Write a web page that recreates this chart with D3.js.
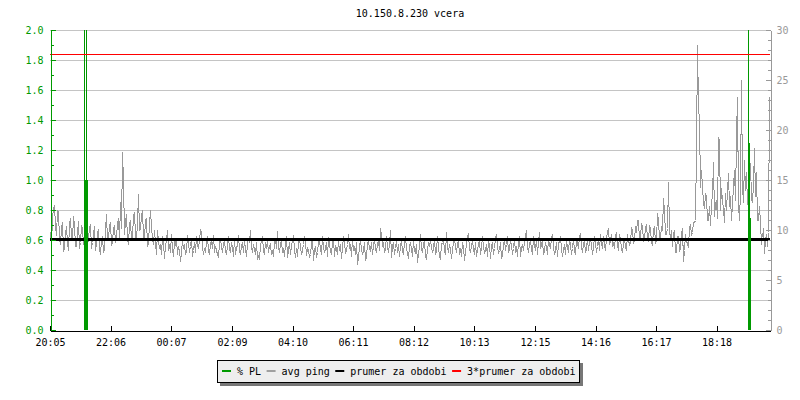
<!DOCTYPE html>
<html><head><meta charset="utf-8">
<script src="https://cdn.jsdelivr.net/npm/d3@7"></script>
<style>
body{margin:0;background:#fff;}
svg text{font-family:"DejaVu Sans Mono",monospace;font-size:10px;}
</style></head><body>
<svg id="c" width="800" height="400"></svg>
<script>
// ---------- data ----------
const title = "10.150.8.230 vcera";
const startTime = "20:05";
const spanMinutes = 1440;
const xTickLabels = ["20:05","22:06","00:07","02:09","04:10","06:11","08:12","10:13","12:15","14:16","16:17","18:18"];
const leftTicks = [0,0.2,0.4,0.6,0.8,1.0,1.2,1.4,1.6,1.8,2.0];
const leftMinorTicks = [0.1,0.3,0.5,0.7,0.9,1.1,1.3,1.5,1.7,1.9];
const rightTicks = [0,5,10,15,20,25,30];
const rightMinorTicks = [1,2,3,4,6,7,8,9,11,12,13,14,16,17,18,19,21,22,23,24,26,27,28,29];
const pingStepMinutes = 2;
const pingValues = [
 9.8,8.6,11.2,12.2,12.5,10.4,9.5,12.0,11.8,9.2,8.6,10.2,10.8,7.9,8.2,9.6,10.4,8.8,8.0,10.6,
 11.2,9.4,9.0,11.4,10.6,8.4,8.4,9.8,10.9,8.2,8.8,10.4,10.2,8.6,9.5,11.6,11.0,8.4,9.2,10.2,
 10.6,8.2,8.8,9.6,10.4,8.0,8.6,9.8,10.0,8.2,7.6,9.0,9.4,7.8,8.2,10.0,11.6,9.0,9.2,10.4,
 10.8,8.6,8.8,10.2,10.4,8.8,9.4,10.6,11.2,9.0,12.8,10.2,17.8,15.0,9.6,10.8,11.6,9.2,8.6,10.6,
 11.0,9.0,9.4,11.4,11.8,9.6,9.0,10.8,13.6,10.0,10.2,11.4,12.0,9.4,9.2,11.0,11.2,8.4,8.8,10.6,
 12.0,10.4,9.2,8.6,10.0,8.8,7.6,10.0,9.0,8.2,8.6,7.6,9.4,8.8,7.2,8.4,9.0,10.0,8.0,8.6,
 7.8,9.6,8.2,7.4,8.8,8.6,9.2,7.6,8.4,8.0,6.9,7.8,9.0,8.2,8.6,7.6,8.0,9.5,8.8,7.8,
 8.4,9.2,7.4,8.0,8.8,7.8,9.4,8.6,8.2,9.0,10.0,9.8,8.4,7.6,8.2,7.8,8.8,9.4,8.0,7.6,
 8.6,9.0,8.2,9.5,7.8,8.4,8.0,7.6,7.3,8.8,9.2,8.4,7.8,8.6,9.0,8.0,7.6,8.4,9.4,8.2,
 7.8,8.8,8.4,7.4,9.2,7.6,8.2,8.6,9.5,8.0,7.6,8.4,8.8,7.8,9.0,8.2,7.4,8.6,9.2,8.8,
 10.0,8.4,7.8,8.6,8.2,7.6,8.8,7.2,7.4,7.2,8.4,9.0,9.4,8.0,7.6,8.8,8.2,9.0,7.8,8.4,
 8.6,7.6,8.0,7.4,8.8,9.2,8.2,9.9,8.4,7.8,8.6,9.0,7.8,8.2,7.4,8.6,9.4,7.3,8.0,8.8,
 7.6,8.4,9.0,9.5,8.0,7.3,8.2,7.4,8.8,9.2,8.4,7.6,8.0,8.6,9.4,8.8,7.5,8.2,8.0,7.4,
 7.6,8.6,9.2,7.0,8.0,8.4,7.3,7.8,8.8,9.0,8.2,7.6,9.4,8.4,7.8,8.2,8.8,7.4,9.3,8.6,
 8.0,7.6,8.8,9.2,7.4,8.4,8.2,7.6,9.0,8.0,8.6,7.2,8.2,9.4,8.8,7.8,8.0,8.6,9.6,8.2,
 8.6,7.4,9.2,8.0,8.4,7.6,8.8,6.6,7.2,8.4,9.0,8.2,7.6,8.0,8.8,7.0,7.4,8.6,9.0,8.2,
 8.0,8.8,7.6,8.4,9.2,8.2,7.8,8.6,9.0,8.0,10.2,9.6,8.4,8.8,7.8,8.2,9.4,8.4,7.8,8.6,
 10.0,7.3,8.4,8.8,7.6,8.2,9.0,7.8,8.6,7.4,8.4,9.0,8.0,7.6,8.8,9.4,8.2,7.8,7.2,8.4,
 8.8,8.2,7.4,9.0,8.0,7.8,8.6,6.8,7.6,8.4,9.6,8.2,7.8,8.6,9.0,7.4,7.2,8.0,8.8,8.4,
 9.0,8.4,7.8,8.2,9.2,7.6,8.0,9.4,8.4,7.4,7.2,8.6,8.8,9.2,8.0,7.6,9.8,8.4,7.8,8.6,
 8.2,7.2,8.0,8.8,9.2,8.4,7.8,8.6,9.0,7.6,8.2,7.4,8.8,8.4,7.0,7.8,8.6,9.4,9.6,8.2,
 7.8,8.4,9.0,8.2,7.6,8.8,7.4,8.0,8.6,9.0,7.6,8.2,9.4,8.4,7.8,8.0,8.6,7.4,9.0,8.6,
 7.2,8.4,8.8,7.6,8.2,9.2,9.6,8.4,7.8,8.0,8.8,7.2,7.6,8.4,9.2,8.0,8.6,9.4,7.8,8.2,
 9.0,8.6,7.6,8.2,9.2,7.8,8.4,7.4,8.8,9.4,7.4,8.2,8.6,8.0,8.8,9.4,10.0,8.4,7.8,8.6,
 9.0,8.2,7.6,9.4,8.6,8.0,9.2,7.6,8.8,9.8,8.2,8.6,9.0,7.6,8.0,8.8,8.4,7.6,9.2,8.6,
 8.2,9.2,9.6,8.4,7.6,8.0,8.8,7.4,8.6,9.0,9.4,8.2,7.4,8.0,8.6,7.6,9.0,8.4,7.8,9.2,
 8.6,7.6,8.2,9.2,8.0,7.6,9.0,8.8,8.2,9.4,9.6,8.4,7.8,8.6,9.0,7.8,8.2,9.2,8.0,8.8,
 9.2,8.6,7.6,8.2,9.4,8.8,7.8,8.4,9.2,8.0,9.6,8.8,8.2,9.4,8.6,8.0,9.2,9.8,10.2,8.6,
 9.0,9.6,8.4,8.8,8.2,9.4,9.8,8.6,8.0,9.6,9.2,8.2,7.8,8.6,9.2,8.4,8.0,9.6,9.0,8.6,
 8.8,10.2,10.0,8.8,9.0,10.4,9.8,11.0,11.0,9.0,9.4,10.6,10.4,9.0,9.2,10.2,10.6,9.2,9.0,10.4,
 10.2,8.8,8.6,10.0,10.4,8.8,9.0,11.7,11.0,9.2,9.2,10.4,10.0,13.2,12.0,9.6,9.6,10.2,14.8,10.0,
 9.2,10.0,8.4,9.6,10.0,7.8,7.8,9.4,9.4,8.0,8.2,9.6,10.2,6.9,8.0,9.6,9.0,8.6,8.4,10.2,
 10.6,9.6,9.8,10.8,10.8,11.0,18.3,28.5,22.3,21.0,14.3,16.0,14.3,12.8,12.2,13.6,13.4,11.0,11.0,12.4,
 10.5,12.6,13.6,16.8,11.4,12.6,13.0,11.2,19.3,19.0,12.0,14.2,13.0,12.2,10.8,13.7,12.0,14.0,15.7,12.4,
 13.4,11.0,12.6,14.4,16.0,13.0,19.4,23.3,12.6,11.0,14.0,25.0,14.3,12.8,17.0,14.0,15.8,12.6,13.7,15.4,
 16.7,13.2,12.8,14.6,18.2,13.4,15.8,11.0,11.0,12.4,10.7,8.6,9.3,10.2,7.7,9.0,9.6,8.4,9.8,23.3
];
const meanPing = 9.2;
const plMinutes = [68,70,72,74,1396,1398,1400];
const plValues  = [3.5,1.0,3.5,1.0,3.5,1.25,0.75];
const legendLabels = ["% PL","avg ping","prumer za obdobi","3*prumer za obdobi"];

// ---------- style ----------
const GREEN = "#009900", GRAY = "#999999", RED = "#ff0000", BLACK = "#000000", GRID = "#c4c4c4";
const legendColors = [GREEN, "#a0a0a0", BLACK, RED];

const svg = d3.select("#c");
const L = 50, R = 770, T = 30, B = 330;

const toMin = s => { const [h,m] = s.split(":").map(Number); return h*60+m; };
const t0 = toMin(startTime);
const offset = s => ((toMin(s) - t0) % 1440 + 1440) % 1440;

const x = d3.scaleLinear().domain([0, spanMinutes]).range([L, R]);
const yL = d3.scaleLinear().domain([0, 2]).range([B, T]);
const yR = d3.scaleLinear().domain([0, 30]).range([B, T]);

svg.append("defs").append("clipPath").attr("id","clip")
  .append("rect").attr("x",L).attr("y",T).attr("width",R-L+1).attr("height",B-T);

// title
svg.append("text").attr("x",(L+R)/2).attr("y",17).attr("text-anchor","middle").attr("fill","#000").text(title);

// grid
svg.append("g").selectAll("line").data(leftTicks.filter(d=>d>0)).join("line")
  .attr("x1",L).attr("x2",R).attr("y1",d=>Math.round(yL(d))+0.5).attr("y2",d=>Math.round(yL(d))+0.5)
  .attr("stroke",GRID).attr("stroke-width",1).attr("shape-rendering","crispEdges");

const plot = svg.append("g").attr("clip-path","url(#clip)");

// ping
plot.append("path").datum(pingValues)
  .attr("d", d3.line().x((d,i)=>x(i*pingStepMinutes)+0.5).y(d=>Math.round(yR(d))+0.5))
  .attr("fill","none").attr("stroke",GRAY).attr("stroke-width",1).attr("shape-rendering","crispEdges");

// mean (3px, extending down from value)
plot.append("line").attr("x1",L).attr("x2",R).attr("y1",Math.round(yR(meanPing))+1.5).attr("y2",Math.round(yR(meanPing))+1.5)
  .attr("stroke",BLACK).attr("stroke-width",3).attr("shape-rendering","crispEdges");

// PL impulses
plot.append("g").selectAll("line").data(plMinutes.map((m,i)=>[m,plValues[i]])).join("line")
  .attr("x1",d=>x(d[0])+0.5).attr("x2",d=>x(d[0])+0.5)
  .attr("y1",yL(0)).attr("y2",d=>yL(d[1]))
  .attr("stroke",GREEN).attr("stroke-width",1).attr("shape-rendering","crispEdges");

// 3*mean
svg.append("path")
  .attr("d",`M${L},${Math.round(yR(3*meanPing))+0.5}H${R}`)
  .attr("fill","none").attr("stroke",RED).attr("stroke-width",1).attr("shape-rendering","crispEdges");

// x axis
const xa = svg.append("g").attr("transform",`translate(0,${B+0.5})`)
  .call(d3.axisBottom(x).tickValues(xTickLabels.map(offset)).tickFormat((d,i)=>xTickLabels[i])
    .tickSizeInner(-5).tickSizeOuter(0).tickPadding(8));
xa.selectAll("path,line").attr("stroke",BLACK).attr("shape-rendering","crispEdges");
xa.selectAll("text").attr("fill",BLACK).style("font-family","DejaVu Sans Mono").style("font-size","10px");

// left axis
const la = svg.append("g").attr("transform",`translate(${L+0.5},0)`)
  .call(d3.axisLeft(yL).tickValues(leftTicks).tickFormat(d3.format(".1f")).tickSizeInner(-5).tickSizeOuter(0).tickPadding(7));
la.selectAll("path,line").attr("stroke",GREEN).attr("shape-rendering","crispEdges");
la.selectAll("text").attr("fill",GREEN).style("font-family","DejaVu Sans Mono").style("font-size","10px");
const lm = svg.append("g").attr("transform",`translate(${L+0.5},0)`)
  .call(d3.axisLeft(yL).tickValues(leftMinorTicks).tickFormat("").tickSizeInner(-3).tickSizeOuter(0));
lm.select("path").remove();
lm.selectAll("line").attr("stroke",GREEN).attr("shape-rendering","crispEdges");

// right axis
const ra = svg.append("g").attr("transform",`translate(${R+0.5},0)`)
  .call(d3.axisRight(yR).tickValues(rightTicks).tickFormat(d3.format("d")).tickSizeInner(-5).tickSizeOuter(0).tickPadding(6));
ra.selectAll("path,line").attr("stroke",GRAY).attr("shape-rendering","crispEdges");
ra.selectAll("text").attr("fill",GRAY).style("font-family","DejaVu Sans Mono").style("font-size","10px");
const rm = svg.append("g").attr("transform",`translate(${R+0.5},0)`)
  .call(d3.axisRight(yR).tickValues(rightMinorTicks).tickFormat("").tickSizeInner(-3).tickSizeOuter(0));
rm.select("path").remove();
rm.selectAll("line").attr("stroke",GRAY).attr("shape-rendering","crispEdges");

// legend
const lg = svg.append("g");
const bx = 217, by = 360, bh = 22;
const shadow = lg.append("rect").attr("fill","#777");
const box = lg.append("rect").attr("fill","#eeeeee").attr("stroke",BLACK).attr("stroke-width",1);
let cx = bx + 5;
legendLabels.forEach((lab,i)=>{
  lg.append("line").attr("x1",cx).attr("x2",cx+9).attr("y1",371).attr("y2",371)
    .attr("stroke",legendColors[i]).attr("stroke-width",2);
  const t = lg.append("text").attr("x",cx+15).attr("y",375).attr("fill",BLACK).text(lab);
  cx = cx + 15 + t.node().getComputedTextLength() + 5.5;
});
const bw = Math.round(cx - bx - 2);
shadow.attr("x",bx+3).attr("y",by+3).attr("width",bw+1).attr("height",bh+1);
box.attr("x",bx+0.5).attr("y",by+0.5).attr("width",bw).attr("height",bh);
</script>
</body></html>
